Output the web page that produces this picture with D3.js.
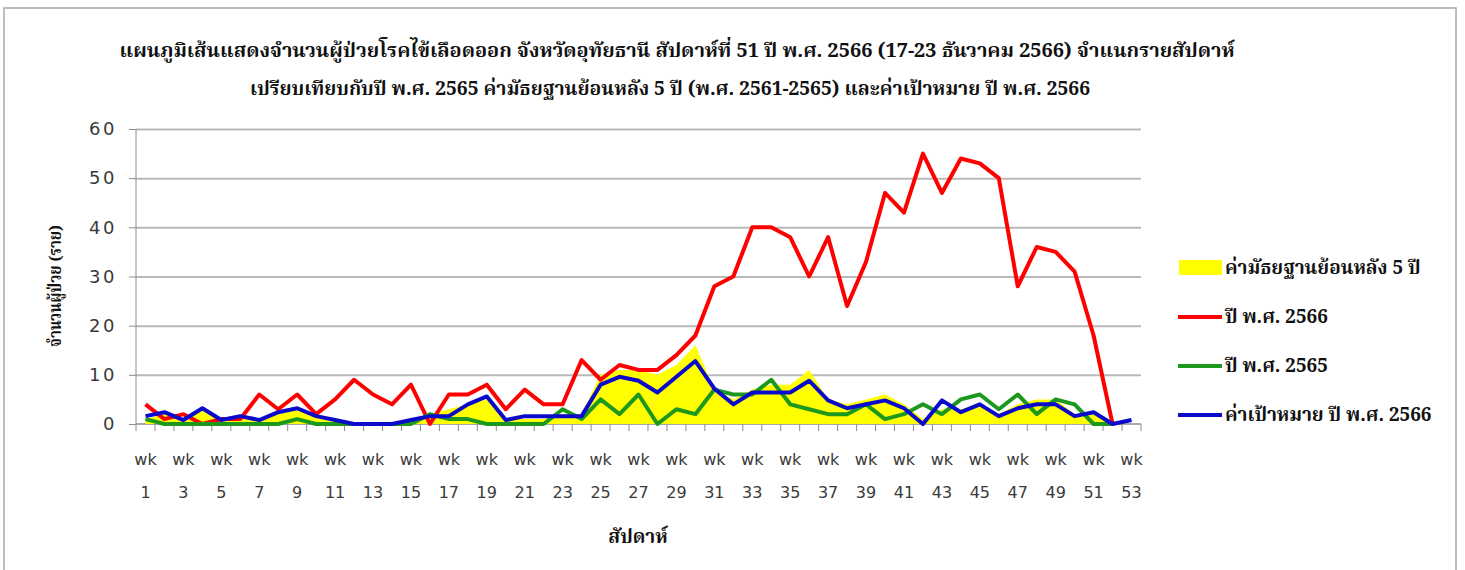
<!DOCTYPE html>
<html>
<head>
<meta charset="utf-8">
<script src="https://cdnjs.cloudflare.com/ajax/libs/d3/7.8.5/d3.min.js"></script>
<style>
  body { margin: 0; background: #fff; }
  svg text { font-family: "DejaVu Sans", Verdana, sans-serif; fill: #3a3a3a; }
  svg text.thai { font-family: "Noto Serif Thai", "Noto Sans Thai", Garuda, Loma, "Tlwg Typo", serif; font-weight: bold; fill: #111; }
</style>
</head>
<body>
<svg id="screen"></svg>
<script>
// weekly dengue cases, Uthai Thani, week 51 / 2566

// categories (weeks)
let weeks = [1,2,3,4,5,6,7,8,9,10,11,12,13,14,15,16,17,18,19,20,21,22,23,24,25,26,27,
             28,29,30,31,32,33,34,35,36,37,38,39,40,41,42,43,44,45,46,47,48,49,50,51,52,53]

// median of previous 5 years (yellow area)
let median5yr = [1,2,1,3,1,1,1,2,3,2,1,0,0,0,1,2,3,4,5,1,1,1,2,2,10,11,11,
                 10,12,16,7,5,7,8,8,11,5,4,5,6,4,1,3,3,4,2,4,5,5,2,2,0,0]

// year 2566 (red), no value yet for week 53
let cases2566 = [4,1,2,0,1,1,6,3,6,2,5,9,6,4,8,0,6,6,8,3,7,4,4,13,9,12,11,
                 11,14,18,28,30,40,40,38,30,38,24,33,47,43,55,47,54,53,50,28,36,35,31,18,0,null]

// year 2565 (green)
let cases2565 = [1,0,0,0,0,0,0,0,1,0,0,0,0,0,0,2,1,1,0,0,0,0,3,1,5,2,6,
                 0,3,2,7,6,6,9,4,3,2,2,4,1,2,4,2,5,6,3,6,2,5,4,0,0,null]

// target 2566 (blue)
let target2566 = [1.6,2.4,0.8,3.2,0.8,1.6,0.8,2.4,3.2,1.6,0.8,0,0,0,0.8,1.6,1.6,4,5.6,0.8,1.6,1.6,1.6,1.6,8,9.6,8.8,
                  6.4,9.6,12.8,7.2,4,6.4,6.4,6.4,8.8,4.8,3.2,4,4.8,3.2,0,4.8,2.4,4,1.6,3.2,4,4,1.6,2.4,0,0.8]

let yTicks = [0,10,20,30,40,50,60]

let titleLines = [
  "แผนภูมิเส้นแสดงจำนวนผู้ป่วยโรคไข้เลือดออก จังหวัดอุทัยธานี สัปดาห์ที่ 51 ปี พ.ศ. 2566 (17-23 ธันวาคม 2566) จำแนกรายสัปดาห์",
  "เปรียบเทียบกับปี พ.ศ. 2565 ค่ามัธยฐานย้อนหลัง 5 ปี (พ.ศ. 2561-2565) และค่าเป้าหมาย ปี พ.ศ. 2566"
]
let yTitle = "จำนวนผู้ป่วย (ราย)"
let xTitle = "สัปดาห์"
let legendNames = ["ค่ามัธยฐานย้อนหลัง 5 ปี", "ปี พ.ศ. 2566", "ปี พ.ศ. 2565", "ค่าเป้าหมาย ปี พ.ศ. 2566"]

//---------------------------------------

let svgSize = {width: 1465, height: 570}
let plot = {left: 136, right: 1141, top: 129, bottom: 424}
let colors = {median: "#ffff00", red: "#ff0000", green: "#1c991c", blue: "#0a0acc"}

let frame = d3.select('#screen')
frame.attr("width", svgSize.width)
     .attr("height", svgSize.height)

// outer border of the chart area
frame.append("rect")
     .attr("x", 4).attr("y", 8)
     .attr("width", 1452).attr("height", 600)
     .attr("fill", "#fff")
     .attr("stroke", "#a8a8a8")
     .attr("stroke-width", 1.5)

let x = d3.scaleBand().domain(weeks).range([plot.left, plot.right])
let y = d3.scaleLinear().domain([0, 60]).range([plot.bottom, plot.top])
let cx = w => x(w) + x.bandwidth() / 2

// part 1) title
titleLines.forEach(function(t, i) {
  frame.append("text")
       .attr("class", "thai")
       .attr("x", [677, 670][i])
       .attr("y", [57, 95][i])
       .attr("text-anchor", "middle")
       .attr("font-size", 19)
       .attr("textLength", [1115, 840][i])
       .attr("lengthAdjust", "spacingAndGlyphs")
       .text(t)
})

// part 2) grid + y axis
frame.append("g")
     .attr("transform", "translate(" + plot.left + ",0)")
     .call(d3.axisLeft(y).tickValues(yTicks.slice(1)).tickSize(-(plot.right - plot.left)).tickFormat(""))
     .call(g => g.select(".domain").remove())
     .call(g => g.selectAll("line").attr("stroke", "#b8b8b8").attr("stroke-width", 2))

let yAxis = frame.append("g")
     .attr("transform", "translate(" + plot.left + ",0)")
     .call(d3.axisLeft(y).tickValues(yTicks).tickSize(7).tickPadding(12))
yAxis.select(".domain").attr("stroke", "#8c8c8c").attr("d", "M0," + plot.top + "V" + plot.bottom)
yAxis.selectAll("line").attr("stroke", "#8c8c8c")
yAxis.selectAll("text")
     .attr("font-size", 18)
     .attr("letter-spacing", 2.5)
     .style("font-family", "'DejaVu Sans', sans-serif")
     .attr("fill", "#3a3a3a")

// part 3) x axis: baseline, ticks at band edges, two-line labels on odd weeks
frame.append("line")
     .attr("x1", plot.left).attr("x2", plot.right)
     .attr("y1", y(0)).attr("y2", y(0))
     .attr("stroke", "#8c8c8c").attr("stroke-width", 1.5)

let edges = weeks.map(w => x(w)).concat([plot.right])
frame.selectAll(".xtick")
     .data(edges)
     .enter()
     .append("line")
     .attr("class", "xtick")
     .attr("x1", d => d).attr("x2", d => d)
     .attr("y1", y(0)).attr("y2", y(0) + 7)
     .attr("stroke", "#8c8c8c")

let xLabels = frame.selectAll(".xlabel")
     .data(weeks.filter(w => w % 2 == 1))
     .enter()
     .append("text")
     .attr("class", "xlabel")
     .attr("text-anchor", "middle")
     .attr("font-size", 16)
xLabels.append("tspan").attr("x", d => cx(d)).attr("y", 465).text("wk")
xLabels.append("tspan").attr("x", d => cx(d)).attr("y", 498).text(d => d)

// axis titles
frame.append("text")
     .attr("class", "thai")
     .attr("x", 638).attr("y", 543)
     .attr("text-anchor", "middle")
     .attr("font-size", 19)
     .text(xTitle)

frame.append("text")
     .attr("class", "thai")
     .attr("transform", "translate(61,286) rotate(-90)")
     .attr("text-anchor", "middle")
     .attr("font-size", 17)
     .attr("textLength", 122)
     .attr("lengthAdjust", "spacingAndGlyphs")
     .text(yTitle)

// part 4) series
let area = d3.area().x((d, i) => cx(weeks[i])).y0(y(0)).y1(d => y(d))
frame.append("path")
     .datum(median5yr)
     .attr("d", area)
     .attr("fill", colors.median)

let line = d3.line()
     .defined(d => d != null)
     .x((d, i) => cx(weeks[i]))
     .y(d => y(d))

let seriesList = [[cases2566, colors.red], [cases2565, colors.green], [target2566, colors.blue]]
seriesList.forEach(function(s) {
  frame.append("path")
       .datum(s[0])
       .attr("d", line)
       .attr("fill", "none")
       .attr("stroke", s[1])
       .attr("stroke-width", 4)
       .attr("stroke-linejoin", "round")
})

// part 5) legend
let legend = frame.append("g").attr("transform", "translate(1178,268)")
let legendColors = [colors.median, colors.red, colors.green, colors.blue]
legendNames.forEach(function(name, i) {
  let row = legend.append("g").attr("transform", "translate(0," + (i * 49) + ")")
  if (i == 0) {
    row.append("rect").attr("x", 1).attr("y", -8).attr("width", 43).attr("height", 15).attr("fill", legendColors[i])
  } else {
    row.append("line").attr("x1", 0).attr("x2", 44).attr("y1", 0).attr("y2", 0)
       .attr("stroke", legendColors[i]).attr("stroke-width", 4)
  }
  row.append("text")
     .attr("class", "thai")
     .attr("x", 47).attr("y", 6)
     .attr("font-size", 19)
     .text(name)
})
</script>
</body>
</html>
